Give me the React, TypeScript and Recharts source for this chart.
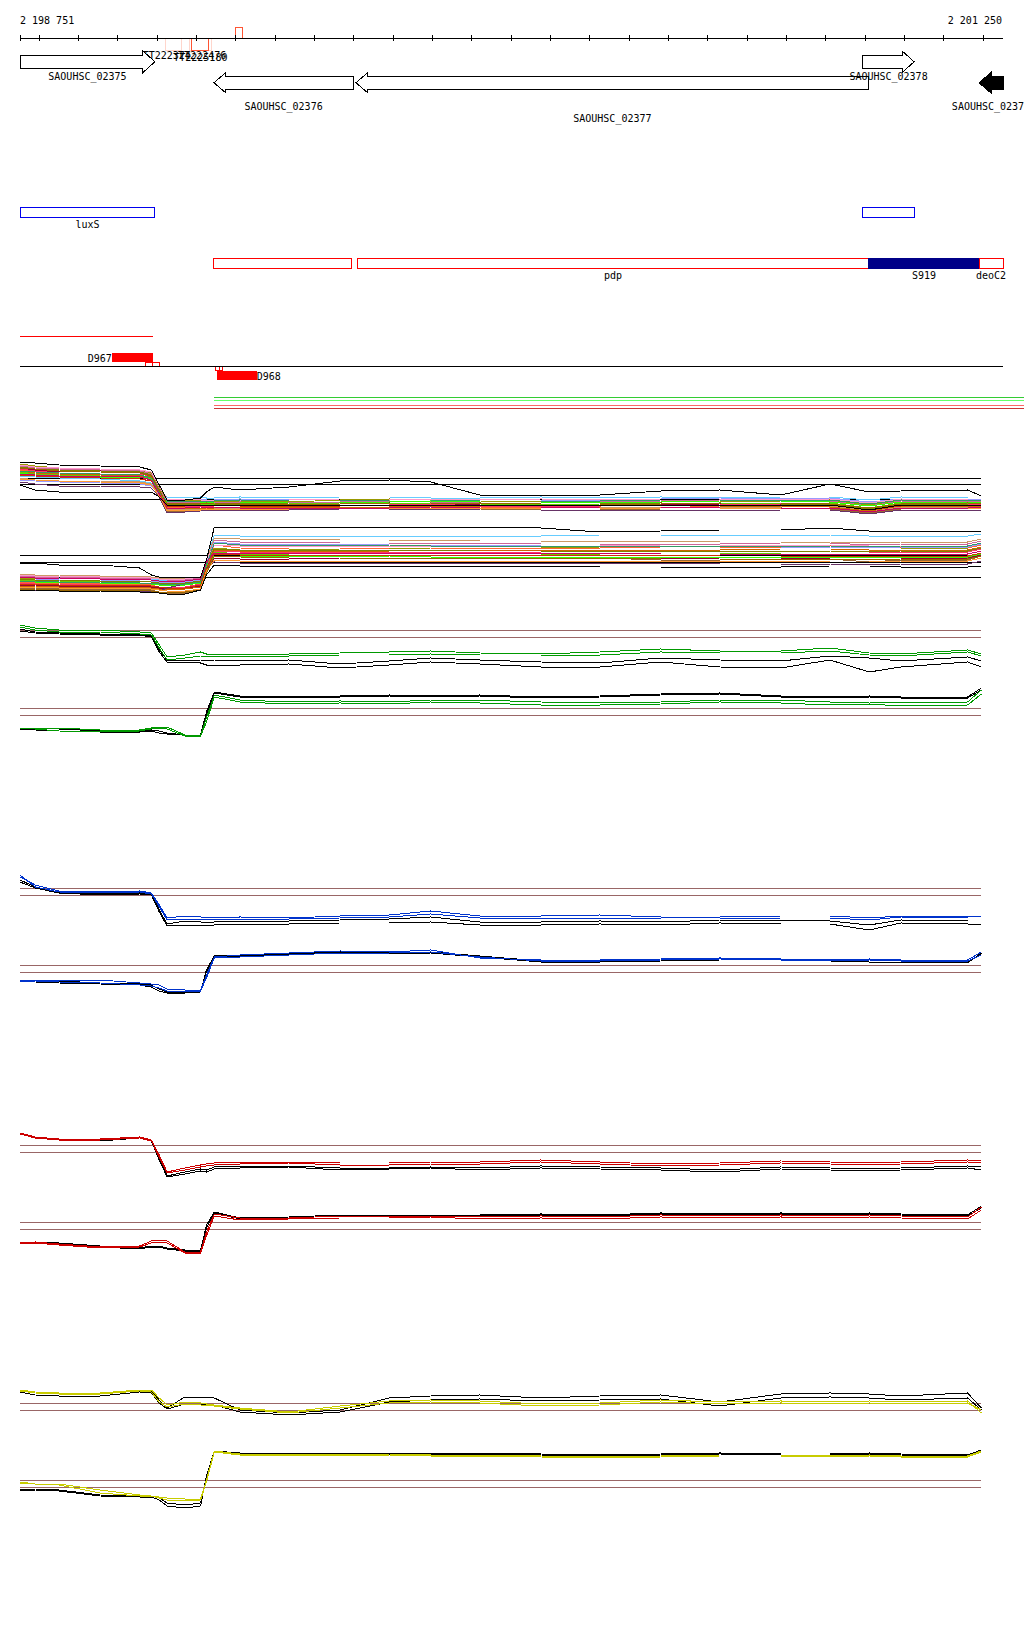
import {
  ComposedChart,
  LineChart,
  Line,
  Scatter,
  XAxis,
  YAxis,
  ReferenceLine,
  ReferenceArea,
} from 'recharts'

const START = 2198751
const END = 2201250
const FONT = '"DejaVu Sans Mono", monospace'
const MARGIN = { top: 0, right: 21, bottom: 0, left: 20 }
const txt = { fontFamily: FONT, fontSize: 10, fill: '#000' }

// ruler
const rulerTicks = [
  2198751, 2198800, 2198900, 2199000, 2199100, 2199200, 2199300, 2199400, 2199500,
  2199600, 2199700, 2199800, 2199900, 2200000, 2200100, 2200200, 2200300, 2200400,
  2200500, 2200600, 2200700, 2200800, 2200900, 2201000, 2201100, 2201200, 2201250,
]
const rulerEnds = ['2 198 751', '2 201 250']

// genes
const geneNames = ['SAOUHSC_02375', 'SAOUHSC_02376', 'SAOUHSC_02377', 'SAOUHSC_02378', 'SAOUHSC_02379']
const geneStart = [2198751, 2199244, 2199605, 2200894, 2201189]
const geneEnd = [2199094, 2199598, 2200909, 2201024, 2201250]
const geneStrand = ['+', '-', '-', '+', '-']

// terminators
const termNames = ['TT222324', 'TT222476', 'TT2225180', '']
const termStart = [2199122, 2199181, 2199188, 2199300]
const termEnd = [2199162, 2199237, 2199231, 2199316]

// operons / features
const luxNames = ['luxS', '']
const luxStart = [2198751, 2200894]
const luxEnd = [2199094, 2201024]
const opNames = ['', 'pdp', 'S919', 'deoC2']
const opStart = [2199244, 2199608, 2200909, 2201189]
const opEnd = [2199595, 2200909, 2201189, 2201250]

// reads
const readNames = ['D967', 'D968']
const readStart = [2198987, 2199252]
const readEnd = [2199089, 2199353]
const markStart = [2199070, 2199088, 2199247, 2199257]
const markEnd = [2199088, 2199105, 2199257, 2199266]
const redSpan = [2198751, 2199089]
const coverStart = 2199244
const coverEnd = 2201303

// probe positions shared by all signal tracks
const positions = [
  2198751, 2198790, 2198850, 2198955, 2199055, 2199085, 2199105, 2199125, 2199170, 2199210,
  2199225, 2199245, 2199310, 2199435, 2199565, 2199690, 2199795, 2199920, 2200075, 2200225,
  2200380, 2200530, 2200685, 2200810, 2200910, 2200990, 2201160, 2201195,
]

// multi-sample track
const multiRefs = [121.7, 115.7, 100.7, 44.7, 37.7, 22.7]
const up1 = [136,134,132,131,130,127,112,100,100,99,98,98,99,98,100,101,100,99,98,97,98,98,99,100,95,99,98,98]
const up2 = [132,130,128,129,128,125,110,95,96,95,95,96,95,94,96,97,96,95,94,94,95,96,95,96,92,95,96,95]
const up3 = [130,128,127,126,125,122,108,92,93,94,93,92,93,93,94,94,95,93,92,93,92,94,94,93,89,93,94,94]
const up4 = [128,126,125,124,124,122,107,94,95,96,96,95,95,96,97,96,97,96,95,96,96,97,96,97,92,97,96,97]
const up5 = [124,123,122,121,119,117,107,103,102,103,102,102,103,102,103,103,102,102,103,102,103,102,103,103,100,103,102,102]
const up6 = [134,132,131,130,129,126,111,98,97,98,97,97,98,97,98,99,98,97,97,98,99,100,99,99,94,99,98,99]
const up7 = [126,124,123,122,121,119,105,88,89,90,90,89,90,91,91,92,92,91,90,90,91,91,92,91,87,91,92,92]
const up8 = [122,120,119,119,118,116,104,90,91,91,92,91,92,92,93,93,94,93,93,92,93,93,93,94,89,93,93,94]
const up9 = [120,119,118,117,116,114,105,100,101,101,100,100,101,100,101,101,101,100,100,100,101,102,101,102,98,101,100,101]
const up10 = [131,129,127,126,126,124,109,93,94,94,94,94,95,95,95,95,96,94,94,94,95,95,96,95,91,95,95,96]
const up11 = [127,125,124,123,123,121,107,97,97,97,98,97,97,98,98,98,99,98,98,98,98,99,99,98,94,98,98,98]
const up12 = [129,127,126,125,124,123,108,91,92,92,92,92,93,93,93,93,94,93,93,92,92,93,94,93,89,94,94,94]
const up13 = [118,116,114,114,113,112,103,87,88,89,90,90,90,90,91,91,91,90,90,90,90,89,90,90,86,90,90,90]
const up14 = [135,133,132,131,130,128,114,101,101,100,100,100,100,100,101,101,101,100,101,100,101,101,100,101,97,101,100,100]
const up15 = [125,124,123,122,121,119,106,94,94,95,95,95,94,94,94,95,95,94,94,95,95,94,94,95,90,94,95,95]
const up16 = [133,131,130,129,128,125,110,96,96,96,97,96,96,97,97,96,96,97,96,96,97,96,96,96,91,96,96,97]
const up17 = [121,120,119,118,117,115,104,89,90,90,91,90,91,91,92,92,92,92,91,91,92,92,91,92,88,92,91,92]
const up18 = [129,128,127,126,125,122,107,99,99,99,99,99,100,99,99,100,100,99,99,99,100,100,100,100,96,100,99,100]
const up19 = [126,125,124,124,123,120,106,92,92,93,93,93,92,92,92,92,93,92,92,93,93,92,92,92,88,92,92,93]
const up20 = [132,131,129,128,127,124,109,96,97,97,97,97,96,96,96,97,97,97,96,96,96,97,97,96,92,96,97,96]
const upK1 = [138,137,135,134,133,130,115,100,100,102,108,113,110,113,119,120,118,105,105,105,109,110,105,116,108,109,110,104]
const upK2 = [115,110,108,108,108,108,103,95,95,95,95,95,95,95,95,95,95,95,95,95,95,95,95,95,90,95,95,95]
const dn1 = [22,21,20,20,19,18,17,16,16,18,35,52,50,50,51,51,52,52,52,53,53,54,54,54,53,52,52,55]
const dn2 = [15,15,14,14,14,13,12,12,12,14,30,42,41,41,42,42,42,42,42,41,41,42,42,42,43,42,42,45]
const dn3 = [18,17,17,16,16,15,13,12,12,15,32,55,52,51,51,52,52,52,52,52,53,53,53,54,53,53,52,55]
const dn4 = [20,19,19,18,17,17,16,16,16,18,34,48,46,46,47,47,47,46,46,46,47,47,46,46,45,46,46,49]
const dn5 = [23,23,22,22,21,21,20,20,20,22,40,65,64,64,64,64,64,64,64,65,65,65,65,65,64,64,64,66]
const dn6 = [24,23,23,22,22,22,21,20,20,22,38,60,58,58,57,57,57,57,56,56,56,56,57,57,55,56,56,59]
const dn7 = [12,12,11,11,11,10,8,7,7,10,28,47,45,44,44,43,43,42,42,42,40,40,41,41,38,40,40,44]
const dn8 = [26,25,25,24,24,23,22,22,22,23,40,62,61,61,60,60,60,59,59,59,59,58,58,58,57,58,58,61]
const dn9 = [21,21,20,20,19,19,18,18,18,20,37,58,56,56,56,55,55,55,54,54,54,53,53,53,52,53,53,56]
const dn10 = [17,16,16,15,15,14,13,13,13,16,33,49,48,48,48,48,48,48,48,49,49,49,49,49,48,48,48,51]
const dn11 = [19,18,18,17,17,16,15,15,15,17,34,44,44,44,44,44,43,43,43,43,43,43,43,43,43,43,43,46]
const dn12 = [14,14,13,13,13,12,11,11,11,13,30,50,49,49,49,49,50,50,50,50,50,50,51,51,50,50,50,53]
const dn13 = [10,10,10,10,9,9,9,12,16,18,32,38,37,37,37,37,37,37,37,37,37,36,36,36,35,36,36,39]
const dn14 = [25,24,24,23,23,22,21,21,21,23,40,55,54,54,54,54,54,54,54,54,55,55,55,55,54,54,54,57]
const dn15 = [16,16,15,15,15,14,13,12,12,15,32,46,45,45,45,45,45,45,45,45,45,44,44,44,44,44,44,47]
const dn16 = [21,20,20,19,19,18,17,17,17,19,36,51,50,50,50,50,50,49,49,49,49,49,49,49,48,49,49,52]
const dn17 = [13,13,12,12,12,11,10,9,9,11,29,40,39,39,39,39,39,39,39,39,39,39,39,38,38,39,39,42]
const dn18 = [19,19,18,18,17,17,16,16,16,18,35,57,55,55,55,55,54,54,54,54,54,54,54,54,53,54,54,57]
const dn19 = [23,22,22,21,21,20,19,19,19,21,38,47,47,47,47,47,47,47,47,47,46,46,46,46,46,46,46,49]
const dn20 = [11,11,10,10,10,9,8,8,8,10,27,44,43,42,42,42,42,42,42,42,41,41,41,41,40,41,41,44]
const dnK1 = [37,37,35,35,32,25,23,23,23,23,40,73,73,73,73,73,73,73,72,68,69,70,70,72,69,69,69,69]
const dnK2 = [10,10,9,9,8,8,7,6,6,10,25,35,34,34,34,34,34,34,34,33,33,33,33,34,34,33,33,34]

// green track
const greenRefs = [114.7, 107.7, 36.7, 29.7]
const greenUpA = [120,117,115,115,113,112,100,88,90,93,91,90,91,91,92,93,94,92,91,93,96,94,94,97,92,91,95,91]
const greenUpB = [118,115,113,113,111,110,97,85,87,89,89,88,89,89,90,90,91,90,90,90,93,92,92,94,90,89,93,89]
const greenUpK1 = [116,113,112,111,111,109,95,85,84,85,85,85,84,85,81,84,87,85,83,82,87,85,84,89,87,84,88,84]
const greenUpK2 = [114,112,111,110,110,108,93,83,83,82,80,80,80,81,77,80,83,81,78,78,83,78,77,85,73,78,83,78]
const greenDnA = [17,17,17,15,15,17,18,18,10,10,27,50,45,43,44,43,45,45,43,42,43,45,45,43,43,42,43,55]
const greenDnB = [17,16,14,13,14,16,17,16,9,9,23,48,43,41,42,41,43,42,40,40,41,43,42,40,41,39,40,51]
const greenDnK1 = [17,17,16,14,14,15,14,12,10,10,30,52,48,48,48,49,48,49,47,48,50,51,48,47,48,47,47,55]
const greenDnK2 = [16,15,14,13,13,14,12,11,10,10,33,53,49,49,49,50,49,50,48,49,51,52,49,48,49,48,48,57]

// blue track
const blueRefs = [111.7, 104.7, 34.7, 27.7]
const blueUpA = [123,115,109,108,109,107,95,82,84,83,83,82,83,82,84,85,89,84,84,85,83,83,84,84,82,84,84,84]
const blueUpB = [125,113,108,107,108,106,93,80,81,81,81,80,81,81,82,83,86,82,82,82,81,81,82,82,80,83,82,82]
const blueUpK1 = [120,113,108,106,107,106,90,76,79,78,78,78,79,79,80,81,83,78,78,79,78,80,80,79,75,80,79,79]
const blueUpK2 = [118,112,107,105,106,105,88,74,75,75,74,75,76,76,77,77,78,75,75,76,75,77,76,76,70,77,76,75]
const blueDnA = [20,20,20,20,17,16,15,11,10,10,25,43,45,47,49,48,50,42,40,40,41,42,41,40,41,40,40,48]
const blueDnB = [19,19,18,17,15,14,12,9,9,9,22,42,43,45,47,47,48,43,39,39,40,41,40,39,40,39,39,45]
const blueDnK1 = [20,20,19,17,16,15,11,8,8,9,28,44,45,47,48,47,48,44,39,39,40,41,41,40,40,39,38,46]
const blueDnK2 = [19,18,17,16,15,13,9,7,7,8,30,44,44,46,47,46,47,43,38,38,39,40,40,39,38,38,37,47]

// red track
const redRefs = [114.7, 107.7, 37.7, 30.7]
const redUpA = [127,123,121,121,123,120,105,88,92,95,96,97,98,98,97,97,98,98,100,98,96,97,99,98,97,98,100,99]
const redUpB = [126,122,120,120,122,119,103,87,90,93,94,95,96,97,95,95,96,96,98,96,94,95,97,96,95,96,98,97]
const redUpK1 = [126,123,121,120,123,120,102,84,88,91,90,93,94,94,92,92,93,92,94,93,92,90,93,92,91,92,94,93]
const redUpK2 = [126,122,120,119,122,119,100,83,86,89,88,91,92,93,90,91,92,90,92,91,90,88,91,90,89,90,92,90]
const redDnA = [17,18,16,13,14,19,20,19,8,8,28,46,42,42,44,44,44,43,44,43,45,44,45,44,45,44,43,53]
const redDnB = [16,17,15,12,13,17,18,17,7,7,24,44,40,41,42,42,43,41,42,41,43,42,43,42,43,42,41,50]
const redDnK1 = [18,18,17,14,12,14,14,12,10,10,32,47,41,42,44,44,44,44,45,44,46,45,46,45,46,45,44,52]
const redDnK2 = [17,17,16,13,11,13,13,11,9,9,35,48,42,43,45,45,45,45,46,45,47,46,47,46,47,46,45,54]

// yellow track
const yellowRefs = [116.7, 109.7, 39.7, 32.7]
const yellowUpA = [130,128,127,127,130,130,122,115,118,117,116,115,112,108,114,119,120,119,116,117,120,118,119,118,119,118,119,107]
const yellowUpB = [129,127,126,126,129,128,118,113,116,115,115,114,111,107,112,117,118,117,114,115,118,116,117,116,117,116,117,110]
const yellowUpK1 = [129,127,126,126,129,129,120,112,123,123,123,122,110,107,110,122,124,125,122,124,125,118,126,127,126,124,127,112]
const yellowUpK2 = [128,125,124,124,128,127,117,111,116,116,116,115,108,105,108,118,120,121,119,120,121,114,122,123,122,120,122,110]
const yellowDnA = [38,36,36,30,25,24,23,22,21,21,40,69,66,66,66,66,65,65,64,63,64,65,65,64,65,64,64,69]
const yellowDnB = [37,36,35,27,24,24,22,20,19,20,38,68,65,65,65,65,64,64,63,62,63,64,64,63,64,63,63,68]
const yellowDnK1 = [31,31,30,25,24,24,22,17,15,17,42,68,66,66,66,66,66,66,65,64,65,66,65,65,66,65,64,69]
const yellowDnK2 = [30,30,29,24,23,23,20,14,12,14,44,69,67,67,67,67,67,67,66,65,66,67,66,66,67,66,65,70]

const sampleColors = [
  '#999900', '#990033', '#ff6633', '#66cc00', '#66ccff', '#cc6699', '#996633',
  '#cc9966', '#9999ff', '#ff3366', '#33ff00', '#cc6600', '#663366', '#ff99cc',
  '#cc3300', '#808000', '#ff9933', '#339966', '#cc0066', '#996600',
]

type Series = { values: number[]; color: string }

function geneShape(i: number) {
  const labelY = [80, 110, 122, 80, 110][i]
  const filled = geneNames[i] === 'SAOUHSC_02379'
  return (p: any) => {
    const { x, y, width, height } = p
    const head = 12
    const yt = y + 4
    const yb = y + height - 4
    const ym = y + height / 2
    let pts: number[][]
    if (geneStrand[i] === '+') {
      const hb = x + width - head
      pts = [[x, yt], [hb, yt], [hb, y], [x + width, ym], [hb, y + height], [hb, yb], [x, yb]]
    } else {
      const hb = x + head
      pts = [[x + width, yt], [hb, yt], [hb, y], [x, ym], [hb, y + height], [hb, yb], [x + width, yb]]
    }
    return (
      <g>
        <polygon
          points={pts.map(q => q.join(',')).join(' ')}
          fill={filled ? '#000' : '#fff'}
          stroke="#000"
          strokeWidth={1}
        />
        <text x={x + width / 2} y={labelY} textAnchor="middle" style={txt}>
          {geneNames[i]}
        </text>
      </g>
    )
  }
}

function boxShape(stroke: string, fill: string, label: string, labelX: 'middle' | 'before' | 'after', labelY: number, dx = 0) {
  return (p: any) => {
    const { x, y, width, height } = p
    let tx = x + width / 2 + dx
    let anchor: 'middle' | 'end' | 'start' = 'middle'
    if (labelX === 'before') {
      tx = x - 1
      anchor = 'end'
    } else if (labelX === 'after') {
      tx = x + width
      anchor = 'start'
    }
    return (
      <g>
        <rect x={x} y={y} width={width} height={height} fill={fill} stroke={stroke} strokeWidth={1} />
        {label ? (
          <text x={tx} y={labelY} textAnchor={anchor} style={txt}>
            {label}
          </text>
        ) : null}
      </g>
    )
  }
}

const renderTick = (p: any) => {
  const { cx, cy, payload } = p
  return (
    <g>
      <line x1={cx} x2={cx} y1={cy - 3} y2={cy + 3} stroke="#000" />
      {payload.label ? (
        <text x={payload.anchor === 'end' ? cx - 1 : cx} y={24} textAnchor={payload.anchor} style={txt}>
          {payload.label}
        </text>
      ) : null}
    </g>
  )
}

function AnnotationTrack() {
  const tickRows = rulerTicks.map((pos, i) => ({
    pos,
    lane: 38,
    label: i === 0 ? rulerEnds[0] : i === rulerTicks.length - 1 ? rulerEnds[1] : '',
    anchor: i === 0 ? 'start' : 'end',
  }))
  const termLane = [[38, 50.5], [38, 50.5], [38, 50.5], [27, 38]]
  const termColor = ['#ffd6cc', '#ffd6cc', '#ff5533', '#ff5533']
  const termLabelY = [58.5, 58.5, 61, 0]
  const termDx = [-7, 2, 0, 0]
  const coverLines = [
    { y: 397.5, color: '#33cc33' },
    { y: 400.5, color: '#66ff66' },
    { y: 405.5, color: '#ff6666' },
    { y: 408.5, color: '#cc3333' },
  ]

  return (
    <div style={{ position: 'absolute', left: 0, top: 0 }}>
      <ComposedChart width={1024} height={420} data={tickRows} margin={MARGIN}>
        <XAxis dataKey="pos" type="number" domain={[START, END]} hide allowDataOverflow />
        <YAxis type="number" domain={[0, 420]} reversed hide allowDataOverflow />
        <ReferenceLine segment={[{ x: START, y: 38 }, { x: END, y: 38 }]} stroke="#000" />
        <Scatter dataKey="lane" shape={renderTick} isAnimationActive={false} />

        {termNames.map((n, i) => (
          <ReferenceArea
            key={'t' + i}
            x1={termStart[i]}
            x2={termEnd[i]}
            y1={termLane[i][0]}
            y2={termLane[i][1]}
            shape={boxShape(termColor[i], 'none', n, 'middle', termLabelY[i], termDx[i])}
          />
        ))}

        {geneNames.map((n, i) => (
          <ReferenceArea
            key={n}
            x1={geneStart[i]}
            x2={geneEnd[i]}
            y1={geneStrand[i] === '+' ? 51 : 72.5}
            y2={geneStrand[i] === '+' ? 72.5 : 93}
            shape={geneShape(i)}
          />
        ))}

        {luxNames.map((n, i) => (
          <ReferenceArea
            key={'l' + i}
            x1={luxStart[i]}
            x2={luxEnd[i]}
            y1={207.5}
            y2={217.5}
            shape={boxShape('#0000ee', '#fff', n, 'middle', 227.5)}
          />
        ))}

        {opNames.map((n, i) => (
          <ReferenceArea
            key={'o' + i}
            x1={opStart[i]}
            x2={opEnd[i]}
            y1={258.5}
            y2={268.5}
            shape={
              n === 'S919'
                ? boxShape('#000088', '#000088', n, 'middle', 278.5)
                : boxShape('#ff0000', '#fff', n, 'middle', 278.5)
            }
          />
        ))}

        <ReferenceLine segment={[{ x: redSpan[0], y: 336.5 }, { x: redSpan[1], y: 336.5 }]} stroke="#ff0000" />
        <ReferenceLine segment={[{ x: START, y: 366.5 }, { x: END, y: 366.5 }]} stroke="#000" />

        {markStart.map((s, i) => (
          <ReferenceArea
            key={'m' + i}
            x1={s}
            x2={markEnd[i]}
            y1={i < 2 ? 362 : 366.5}
            y2={i < 2 ? 366.5 : 370.5}
            shape={boxShape('#ff0000', '#fff', '', 'middle', 0)}
          />
        ))}

        {readNames.map((n, i) => (
          <ReferenceArea
            key={n}
            x1={readStart[i]}
            x2={readEnd[i]}
            y1={i === 0 ? 353.5 : 371.5}
            y2={i === 0 ? 361.5 : 379.5}
            shape={boxShape('#ff0000', '#ff0000', n, i === 0 ? 'before' : 'after', i === 0 ? 361.5 : 380)}
          />
        ))}

        {coverLines.map(c => (
          <ReferenceLine
            key={c.y}
            segment={[{ x: coverStart, y: c.y }, { x: coverEnd, y: c.y }]}
            stroke={c.color}
            ifOverflow="visible"
          />
        ))}
      </ComposedChart>
    </div>
  )
}

function SignalPanel({
  top,
  height,
  refs,
  refColor,
  series,
}: {
  top: number
  height: number
  refs: number[]
  refColor: string
  series: Series[]
}) {
  const data = positions.map((pos, i) => {
    const row: Record<string, number> = { pos }
    series.forEach((s, k) => {
      row['s' + k] = s.values[i]
    })
    return row
  })
  const last = positions[positions.length - 1]
  return (
    <div style={{ position: 'absolute', left: 0, top }}>
      <LineChart width={1024} height={height} data={data} margin={MARGIN}>
        <XAxis dataKey="pos" type="number" domain={[START, END]} hide />
        <YAxis type="number" domain={[0, height]} hide />
        {refs.map(v => (
          <ReferenceLine key={v} segment={[{ x: START, y: v }, { x: last, y: v }]} stroke={refColor} />
        ))}
        {series.map((s, k) => (
          <Line
            key={k}
            type="linear"
            dataKey={'s' + k}
            stroke={s.color}
            strokeWidth={1}
            dot={false}
            isAnimationActive={false}
          />
        ))}
      </LineChart>
    </div>
  )
}

export default function App() {
  const upper = [up1, up2, up3, up4, up5, up6, up7, up8, up9, up10, up11, up12, up13, up14, up15, up16, up17, up18, up19, up20]
  const lower = [dn1, dn2, dn3, dn4, dn5, dn6, dn7, dn8, dn9, dn10, dn11, dn12, dn13, dn14, dn15, dn16, dn17, dn18, dn19, dn20]
  const multiSeries: Series[] = [
    ...upper.map((v, i) => ({ values: v, color: sampleColors[i] })),
    ...lower.map((v, i) => ({ values: v, color: sampleColors[i] })),
    { values: upK1, color: '#000' },
    { values: upK2, color: '#000' },
    { values: dnK1, color: '#000' },
    { values: dnK2, color: '#000' },
  ]
  const pair = (color: string, k: number[][], c: number[][]): Series[] => [
    ...k.map(v => ({ values: v, color: '#000' })),
    ...c.map(v => ({ values: v, color })),
  ]
  const brown = '#996666'

  return (
    <div
      style={{
        position: 'absolute',
        left: 0,
        top: 0,
        width: 1024,
        height: 1640,
        background: '#fff',
        shapeRendering: 'crispEdges',
      }}
    >
      <AnnotationTrack />
      <SignalPanel top={455} height={145} refs={multiRefs} refColor="#000" series={multiSeries} />
      <SignalPanel
        top={615}
        height={130}
        refs={greenRefs}
        refColor={brown}
        series={pair('#009900', [greenUpK1, greenUpK2, greenDnK1, greenDnK2], [greenUpA, greenUpB, greenDnA, greenDnB])}
      />
      <SignalPanel
        top={865}
        height={135}
        refs={blueRefs}
        refColor={brown}
        series={pair('#0033cc', [blueUpK1, blueUpK2, blueDnK1, blueDnK2], [blueUpA, blueUpB, blueDnA, blueDnB])}
      />
      <SignalPanel
        top={1125}
        height={135}
        refs={redRefs}
        refColor={brown}
        series={pair('#cc0000', [redUpK1, redUpK2, redDnK1, redDnK2], [redUpA, redUpB, redDnA, redDnB])}
      />
      <SignalPanel
        top={1380}
        height={140}
        refs={yellowRefs}
        refColor={brown}
        series={pair('#c8cc00', [yellowUpK1, yellowUpK2, yellowDnK1, yellowDnK2], [yellowUpA, yellowUpB, yellowDnA, yellowDnB])}
      />
    </div>
  )
}
